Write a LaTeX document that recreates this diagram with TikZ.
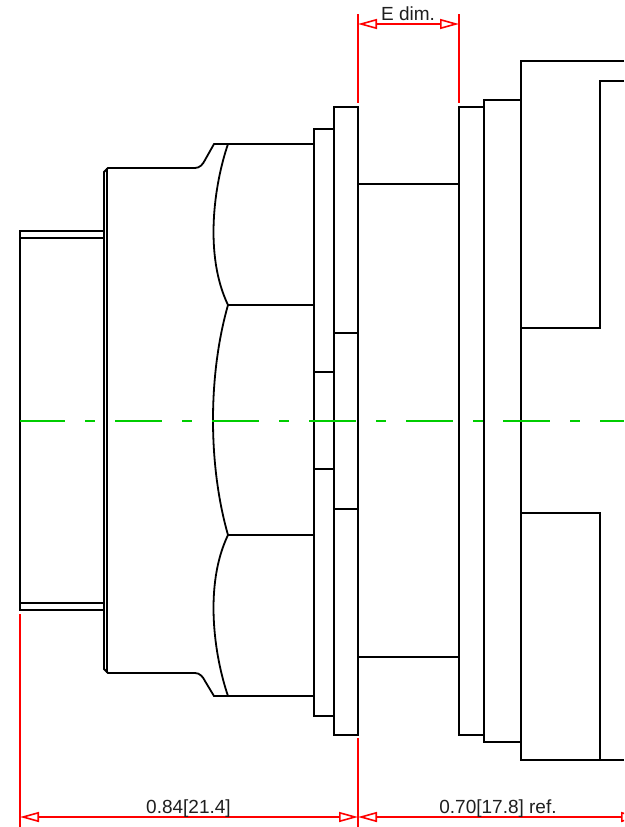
\documentclass[tikz,border=0pt]{standalone}
\usepackage{fontspec}
\setmainfont{Liberation Sans}
\usetikzlibrary{arrows.meta}
\definecolor{dimred}{RGB}{255,0,0}
\definecolor{axisgreen}{RGB}{0,205,0}
\tikzset{
  x=1pt,y=-1pt,
  part/.style={draw=black,line width=1.8pt,line join=miter},
  extline/.style={draw=dimred,line width=1.8pt},
  dimline/.style={draw=dimred,line width=1.8pt,{Triangle[open,length=19pt,width=10pt,line width=1.6pt]}-{Triangle[open,length=19pt,width=10pt,line width=1.6pt]}},
  axisline/.style={draw=axisgreen,line width=2pt,dash pattern=on 47pt off 20pt on 10pt off 20pt,dash phase=2pt},
  dimtext/.style={text=black!88,inner sep=0pt,anchor=base,font=\fontsize{19}{19}\selectfont}
}
\begin{document}
\begin{tikzpicture}
\useasboundingbox (0,0) rectangle (624,827);
\clip (0,0) rectangle (624,827);
\fill[white] (0,0) rectangle (624,827);
% threaded end
\draw[part] (104,231) -- (20,231) -- (20,610) -- (104,610);
\draw[part] (20,238) -- (104,238);
\draw[part] (20,603) -- (104,603);
% shoulder and chamfered body
\draw[part] (104,610) -- (104,172) -- (108,168) -- (195,168)
  .. controls (200,168) and (203,164) .. (205,160) -- (214,144) -- (314,144);
\draw[part] (104,610) -- (104,669) -- (108,673) -- (195,673)
  .. controls (200,673) and (203,677) .. (205,681) -- (214,696) -- (314,696);
\draw[part] (107,168) -- (107,673);
% hex flats
\draw[part] (228,144) .. controls (214,185) and (204,255) .. (228,305);
\draw[part] (228,305) .. controls (208,375) and (208,465) .. (228,535);
\draw[part] (228,535) .. controls (204,585) and (214,655) .. (228,696);
\draw[part] (228,305) -- (314,305);
\draw[part] (228,535) -- (314,535);
% washer
\draw[part] (314,129) rectangle (334,716);
\draw[part] (314,372) -- (334,372);
\draw[part] (314,469) -- (334,469);
% flange
\draw[part] (334,107) rectangle (358,735);
\draw[part] (334,333) -- (358,333);
\draw[part] (334,509) -- (358,509);
% neck
\draw[part] (358,184) -- (459,184);
\draw[part] (358,657) -- (459,657);
% right collars
\draw[part] (459,107) rectangle (484,735);
\draw[part] (484,100) rectangle (521,742);
\draw[part] (624,61) -- (521,61) -- (521,760) -- (624,760);
\draw[part] (624,81) -- (600,81) -- (600,328) -- (521,328);
\draw[part] (521,513) -- (600,513) -- (600,760);
% axis
\coordinate (axisA) at (20,421);
\coordinate (axisB) at (624,421);
\draw[axisline] (axisA) -- (axisB);
% dimension anchors
\coordinate (eTopL) at (358,14);
\coordinate (eBotL) at (358,103);
\coordinate (eTopR) at (459,14);
\coordinate (eBotR) at (459,103);
\coordinate (eL) at (358,24);
\coordinate (eR) at (459,24);
\coordinate (extA1) at (20,614);
\coordinate (extA2) at (20,827);
\coordinate (extB1) at (358,738);
\coordinate (extB2) at (358,827);
\coordinate (dimA) at (20,817);
\coordinate (dimB) at (358,817);
\coordinate (dimC) at (640,817);
\draw[extline] (eTopL) -- (eBotL);
\draw[extline] (eTopR) -- (eBotR);
\draw[extline] (extA1) -- (extA2);
\draw[extline] (extB1) -- (extB2);
\draw[dimline] (eL) -- (eR);
\draw[dimline] (dimA) -- (dimB);
\draw[dimline] (dimB) -- (dimC);
% labels
\node[dimtext] (labelE) at (408,20) {E dim.};
\node[dimtext] (labelA) at (188.5,813) {0.84[21.4]};
\node[dimtext] (labelB) at (498,813) {0.70[17.8] ref.};
\end{tikzpicture}
\end{document}
